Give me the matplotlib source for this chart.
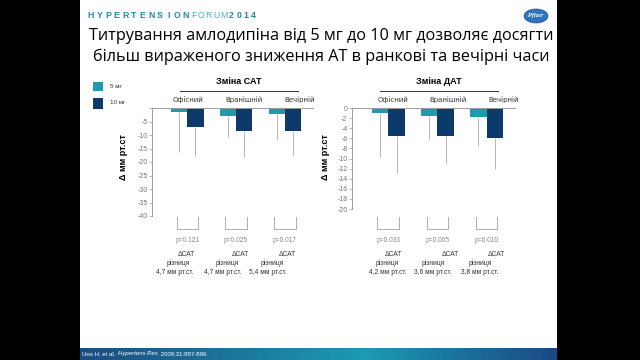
import numpy as np
import matplotlib
matplotlib.use("Agg")
from matplotlib import pyplot as plt
from matplotlib import patches, transforms
from matplotlib.colors import LinearSegmentedColormap

# values (mm Hg)
groups = ["Офісний", "Вранішній", "Вечірній"]
sat_5 = [-1.6, -3.1, -2.3]
sat_5_sd = [14.6, 7.5, 9.5]
sat_10 = [-6.9, -8.5, -8.5]
sat_10_sd = [10.8, 9.5, 9.2]
dat_5 = [-0.9, -1.5, -1.7]
dat_5_sd = [8.9, 4.7, 5.8]
dat_10 = [-5.5, -5.5, -5.9]
dat_10_sd = [7.4, 5.5, 6.2]
sat_p = ["p=0.121", "p=0.025", "p=0.017"]
dat_p = ["p=0.033", "p=0.005", "p=0.010"]
sat_diff = ["4,7 мм рт.ст.", "4,7 мм рт.ст.", "5,4 мм рт.ст."]
dat_diff = ["4,2 мм рт.ст.", "3,6 мм рт.ст.", "3,8 мм рт.ст."]

C5 = "#229aae"
C10 = "#0c3a6a"
GREY = "#7a7a7a"
W, H = 640, 360

plt.rcParams['font.family'] = ['Liberation Sans', 'DejaVu Sans']

fig = plt.figure(figsize=(6.4, 3.6), dpi=100, facecolor="black")
renderer = fig.canvas.get_renderer()


def fx(x):
    return x / W


def fy(y):
    return 1 - y / H


# slide background
fig.patches.append(patches.Rectangle((fx(80), 0), fx(477), 1, transform=fig.transFigure,
                                     facecolor="white", edgecolor="none", zorder=-10))

# bottom band
band = fig.add_axes([fx(80), 0, fx(477), 12 / H])
cmap = LinearSegmentedColormap.from_list("band", [(0, "#1c4c80"), (0.6, "#1b9bb3"), (1, "#1a4884")])
band.imshow(np.linspace(0, 1, 256)[None, :], aspect="auto", cmap=cmap, extent=[0, 1, 0, 1])
band.set_axis_off()
x = 82
for piece, st in [("Uno H, et al. ", "normal"), ("Hypertens Res", "italic"), (" 2008;31:887-896.", "normal")]:
    t = fig.text(fx(x), fy(354), piece, color="white", fontsize=4.3, va="center", style=st)
    x += t.get_window_extent(renderer).width + 1

# header
x = 91
for ch in "HYPERTENSION":
    fig.text(fx(x), fy(16), ch, color="#1e8c9c", fontsize=6.3, fontweight="bold", va="center", ha="center")
    x += 8.6
x -= 0.6
for ch in "FORUM":
    fig.text(fx(x), fy(16), ch, color="#4fb0bd", fontsize=6.3, va="center", ha="center")
    x += 7.5
for ch in "2014":
    fig.text(fx(x), fy(16), ch, color="#1e8c9c", fontsize=6.3, fontweight="bold", va="center", ha="center")
    x += 7.5

# pfizer logo
fig.patches.append(patches.Ellipse((fx(536), fy(16)), fx(24), 14 / H, transform=fig.transFigure,
                                   facecolor="#2f74bd", edgecolor="#1f5a9a", lw=0.5))
fig.text(fx(536), fy(16), "Pfizer", color="white", fontsize=4.5, style="italic",
         fontweight="bold", ha="center", va="center", family="Liberation Serif")

# title
fig.text(fx(321), fy(36), "Титрування амлодипіна від 5 мг до 10 мг дозволяє досягти",
         fontsize=11.7, ha="center", va="center", family=["Open Sans", "DejaVu Sans"])
fig.text(fx(321), fy(57), "більш вираженого зниження АТ в ранкові та вечірні часи",
         fontsize=11.7, ha="center", va="center", family=["Open Sans", "DejaVu Sans"])

# legend
fig.patches.append(patches.Rectangle((fx(93), fy(91)), fx(10), 9 / H, transform=fig.transFigure,
                                     facecolor=C5, edgecolor="none"))
fig.patches.append(patches.Rectangle((fx(93), fy(109)), fx(10), 11 / H, transform=fig.transFigure,
                                     facecolor=C10, edgecolor="none"))
fig.text(fx(110), fy(86), "5 мг", fontsize=4.5, color="#333333", va="center")
fig.text(fx(110), fy(103), "10 мг", fontsize=4.5, color="#333333", va="center")


def panel(rect, xlim, ylim, yticks, v5, s5, v10, s10, title, pvals, diffs,
          lab_dx, d_dx, r_dx, m_dx, line_px, ylab_x):
    ax = fig.add_axes(rect)
    bw = 0.335
    xs = np.arange(len(groups))
    ax.bar(xs - bw / 2, v5, bw, color=C5, zorder=2)
    ax.bar(xs + bw / 2, v10, bw, color=C10, zorder=2)
    ax.errorbar(xs - bw / 2, v5, yerr=[s5, np.zeros(3)], fmt="none", ecolor="#b5b5b5",
                elinewidth=0.7, capsize=0, zorder=1)
    ax.errorbar(xs + bw / 2, v10, yerr=[s10, np.zeros(3)], fmt="none", ecolor="#b5b5b5",
                elinewidth=0.7, capsize=0, zorder=1)
    ax.set_xlim(*xlim)
    ax.set_ylim(*ylim)
    ax.set_yticks(yticks)
    ax.set_yticklabels([("%d" % t) if t != 0 or ylim[0] == -20 else "" for t in yticks])
    ax.set_xticks([])
    ax.set_facecolor("none")
    for s in ["right", "bottom"]:
        ax.spines[s].set_visible(False)
    for s in ["left", "top"]:
        ax.spines[s].set_color("#9a9a9a")
        ax.spines[s].set_linewidth(0.7)
    ax.tick_params(axis="y", length=2, width=0.5, color="#9a9a9a", labelsize=5,
                   labelcolor=GREY, pad=1)

    tr = transforms.blended_transform_factory(ax.transData, fig.transFigure)
    for i, g in enumerate(groups):
        ax.text(i + lab_dx[i], fy(100), g, transform=tr, ha="center", va="center",
                fontsize=5, color="#333333", family=["DejaVu Sans"])
        # bracket
        ax.plot([i - 0.22, i - 0.22, i + 0.22, i + 0.22], [fy(217), fy(229), fy(229), fy(217)],
                transform=tr, color="#a0a0a0", lw=0.6, clip_on=False)
        ax.text(i, fy(240), pvals[i], transform=tr, ha="center", va="center",
                fontsize=4.8, color="#8a8a8a")
        ax.text(i + d_dx[i], fy(254), "ΔCAT", transform=tr, ha="center", va="center",
                fontsize=4.8, color="#333333")
        ax.text(i + r_dx[i], fy(263), "різниця", transform=tr, ha="center", va="center",
                fontsize=4.8, color="#333333")
        ax.text(i + m_dx[i], fy(272), diffs[i], transform=tr, ha="center", va="center",
                fontsize=4.8, color="#333333")

    fig.text(fx(sum(line_px) / 2), fy(82), title, fontsize=6.5, fontweight="bold",
             ha="center", va="center")
    fig.add_artist(plt.Line2D([fx(line_px[0]), fx(line_px[1])], [fy(90.5), fy(90.5)],
                              color="#333333", lw=0.7))
    fig.text(fx(ylab_x), fy(157), "Δ мм рт.ст", fontsize=6.5, fontweight="bold",
             rotation=90, ha="center", va="center")
    return ax


panel([fx(152), fy(216), fx(161), 108 / H], (-0.723, 2.577), (-40, 0), np.arange(0, -41, -5),
      sat_5, sat_5_sd, sat_10, sat_10_sd, "Зміна САТ", sat_p, sat_diff,
      [0.02, 0.16, 0.31], [-0.02, 0.08, 0.06], [-0.18, -0.18, -0.27], [-0.25, -0.27, -0.35],
      (180, 298), 123)
panel([fx(351.7), fy(209), fx(163.3), 101 / H], (-0.744, 2.576), (-20, 0), np.arange(0, -21, -2),
      dat_5, dat_5_sd, dat_10, dat_10_sd, "Зміна ДАТ", dat_p, dat_diff,
      [0.1, 0.21, 0.35], [0.1, 0.26, 0.2], [-0.02, -0.08, -0.14], [0.0, -0.1, -0.14],
      (380, 498), 326)

fig.savefig("out.png", dpi=100, facecolor=fig.get_facecolor())
